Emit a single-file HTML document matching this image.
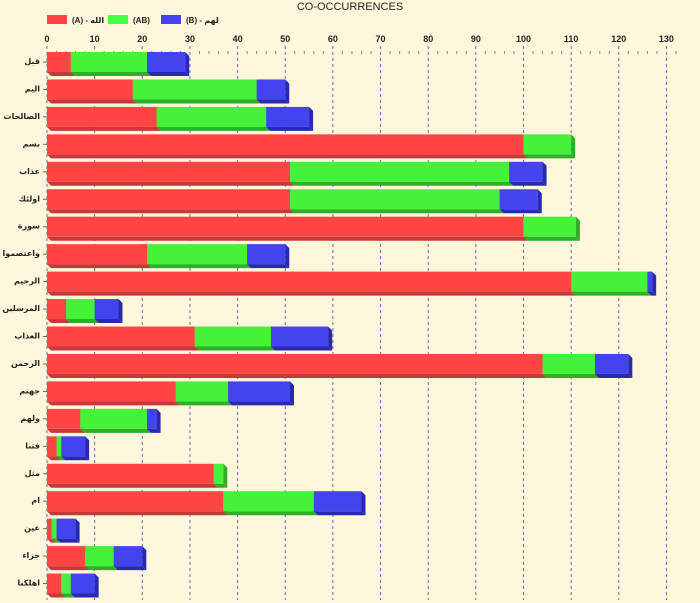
<!DOCTYPE html>
<html><head><meta charset="utf-8"><style>
html,body{margin:0;padding:0;background:#fff7dc;}
svg{display:block}
text{font-family:"Liberation Sans","DejaVu Sans",sans-serif;}
</style></head><body>
<svg id="c" width="700" height="603" xmlns="http://www.w3.org/2000/svg">
<rect width="700" height="603" fill="#fff7dc"/>
<text x="350" y="10" font-size="11" text-anchor="middle" fill="#222">CO-OCCURRENCES</text>
<rect x="47" y="15" width="20" height="9" fill="#f44"/><text x="72" y="23" font-size="8" font-weight="bold" fill="#222">(A) - الله</text>
<rect x="108" y="15" width="20" height="9" fill="#4f4"/><text x="133" y="23" font-size="8" font-weight="bold" fill="#222">(AB)</text>
<rect x="161" y="15" width="20" height="9" fill="#44e"/><text x="186" y="23" font-size="8" font-weight="bold" fill="#222">(B) - لهم</text>
<g id="g"></g>
</svg>
<script>
var g=document.getElementById('g'),s='';
var X=function(v){return 47+v*4.765;};
for(var i=0;i<=13;i++){var x=X(i*10);
s+='<text x="'+x+'" y="42" font-size="9" font-weight="bold" text-anchor="middle" fill="#222">'+(i*10)+'</text>';
s+='<line x1="'+x+'" y1="46" x2="'+x+'" y2="600" stroke="#6a6aa6" stroke-width="1" stroke-dasharray="3,3"/>';}
for(var v=1;v<=133;v++){if(v%10==0||v%2)continue;var x=X(v);s+='<line x1="'+x+'" y1="51" x2="'+x+'" y2="54" stroke="#8080b0"/>';}
var d=[["قبل",5,16,8],["اليم",18,26,6],["الصالحات",23,23,9],["بسم",100,10,0],["عذاب",51,46,7],["اولئك",51,44,8],["سورة",100,11,0],["واعتصموا",21,21,8],["الرحيم",110,16,1],["المرسلين",4,6,5],["العذاب",31,16,12],["الرحمن",104,11,7],["جهنم",27,11,13],["ولهم",7,14,2],["فتنا",2,1,5],["مثل",35,2,0],["ام",37,19,10],["عين",1,1,4],["جزاء",8,6,6],["اهلكنا",3,2,5]];
var C=[["#f44","#c83838"],["#44f23a","#2fae28"],["#4444ee","#2828b0"]];
for(var r=0;r<d.length;r++){var t=52+r*27.45,h=20,dp=4,cum=0;
s+='<text x="40" y="'+(t+12)+'" font-size="8" font-weight="bold" text-anchor="end" fill="#222">'+d[r][0]+'</text>';
s+='<line x1="43" y1="'+(t+10)+'" x2="47" y2="'+(t+10)+'" stroke="#666"/>';
for(var k=0;k<3;k++){var v=d[r][k+1];if(!v)continue;var x0=X(cum),x1=X(cum+v);cum+=v;
s+='<polygon points="'+x0+','+(t+h)+' '+x1+','+(t+h)+' '+(x1+dp)+','+(t+h+dp)+' '+(x0+dp)+','+(t+h+dp)+'" fill="'+C[k][1]+'"/>';
s+='<rect x="'+x0+'" y="'+t+'" width="'+(x1-x0)+'" height="'+h+'" fill="'+C[k][0]+'"/>';
s+='<polygon points="'+x1+','+t+' '+(x1+dp)+','+(t+dp)+' '+(x1+dp)+','+(t+h+dp)+' '+x1+','+(t+h)+'" fill="'+C[k][1]+'"/>';}
}
g.innerHTML=s;
</script>
</body></html>
